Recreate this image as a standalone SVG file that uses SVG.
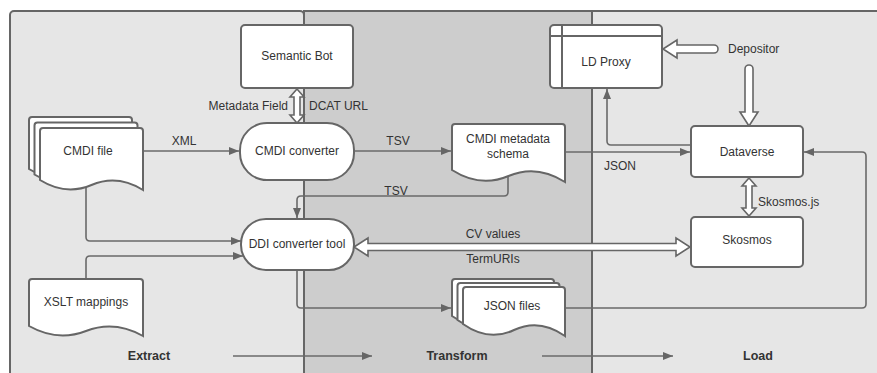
<svg xmlns="http://www.w3.org/2000/svg" width="877" height="373" viewBox="0 0 877 373">
<style>
.panel{stroke:#666;stroke-width:2}
.shape{fill:#fff;stroke:#666;stroke-width:2}
.hollow{fill:#fff;stroke:#666;stroke-width:1.6;stroke-linejoin:miter}
.conn{fill:none;stroke:#6a6a6a;stroke-width:1.6}
text{font-family:"Liberation Sans",Arial,sans-serif;font-size:12px;fill:#333}
.c{text-anchor:middle}
.e{text-anchor:end}
.b{font-weight:bold;font-size:12.5px}
</style>
<defs>
<marker id="ah" viewBox="0 0 10 8" refX="10" refY="4" markerWidth="11" markerHeight="8" markerUnits="userSpaceOnUse" orient="auto">
<path d="M0,0 L10,4 L0,8 Z" fill="#666"/>
</marker>
<path id="docCMDI" d="M0,52 V3 Q0,0 3,0 H100 Q103,0 103,3 V62 Q77.25,46 51.5,57 Q25.75,68 0,52 Z"/>
<path id="docJSON" d="M0,37 V3 Q0,0 3,0 H99 Q102,0 102,3 V49 Q76.5,31 51,43 Q25.5,55 0,37 Z"/>
</defs>

<g id="panels">
<rect class="panel" x="10" y="11" width="294" height="380" rx="4" fill="#e6e6e6"/>
<rect class="panel" x="304" y="11" width="288" height="380" fill="#cdcdcd"/>
<rect class="panel" x="592" y="11" width="300" height="380" fill="#e6e6e6"/>
</g>

<g id="connectors">
<path class="conn" d="M143,151 H239" marker-end="url(#ah)"/>
<path class="conn" d="M354,151 H451" marker-end="url(#ah)"/>
<path class="conn" d="M565,152 H690" marker-end="url(#ah)"/>
<path class="conn" d="M691,145 H611 Q607,145 607,141 V89" marker-end="url(#ah)"/>
<path class="conn" d="M508,176 V192 Q508,196 504,196 H301 Q297,196 297,200 V218" marker-end="url(#ah)"/>
<path class="conn" d="M86,186 V237 Q86,241 90,241 H241" marker-end="url(#ah)"/>
<path class="conn" d="M86,279 V260 Q86,256 90,256 H243" marker-end="url(#ah)"/>
<path class="conn" d="M297,270 V304 Q297,308 301,308 H451" marker-end="url(#ah)"/>
<path class="conn" d="M565,308 H862 Q866,308 866,304 V156 Q866,152 862,152 H804" marker-end="url(#ah)"/>
<path class="hollow" d="M297,89 L304,97 L300,97 L300,115 L304,115 L297,123 L290,115 L294,115 L294,97 L290,97 Z"/>
<path class="hollow" d="M749,178 L756,186 L752,186 L752,208 L756,208 L749,216 L742,208 L746,208 L746,186 L742,186 Z"/>
<path class="hollow" d="M663,49 L677,40 L677,45 L714,45 A4,4 0 0 1 714,53 L677,53 L677,58 Z"/>
<path class="hollow" d="M749,126 L740,112 L745,112 L745,69 A4,4 0 0 1 753,69 L753,112 L758,112 Z"/>
<path class="hollow" d="M354,247 L368,238 L368,243.5 L676,243.5 L676,238 L690,247 L676,256 L676,250.5 L368,250.5 L368,256 Z"/>
<path class="conn" d="M233,356 H372" marker-end="url(#ah)"/>
<path class="conn" d="M542,356 H673" marker-end="url(#ah)"/>
</g>

<g id="labels">
<text x="184" y="145" class="c">XML</text>
<text x="398" y="145" class="c">TSV</text>
<text x="396" y="195" class="c">TSV</text>
<text x="620" y="170" class="c">JSON</text>
<text x="493" y="238" class="c">CV values</text>
<text x="493" y="263" class="c">TermURIs</text>
<text x="758" y="206">Skosmos.js</text>
<text x="728" y="53">Depositor</text>
<text x="288" y="110" class="e">Metadata Field</text>
<text x="309" y="110">DCAT URL</text>
<text x="149" y="360" class="c b">Extract</text>
<text x="457" y="360" class="c b">Transform</text>
<text x="758" y="360" class="c b">Load</text>
</g>

<g id="semantic-bot">
<rect class="shape" x="241" y="25" width="112" height="63" rx="4"/>
<text x="297" y="60" class="c">Semantic Bot</text>
</g>

<g id="cmdi-converter">
<rect class="shape" x="240" y="123" width="114" height="57" rx="27"/>
<text x="297" y="155" class="c">CMDI converter</text>
</g>

<g id="cmdi-file">
<use href="#docCMDI" class="shape" transform="translate(29,117)"/>
<use href="#docCMDI" class="shape" transform="translate(34.5,122.5)"/>
<use href="#docCMDI" class="shape" transform="translate(40,128)"/>
<text x="88" y="155" class="c">CMDI file</text>
</g>

<g id="cmdi-metadata-schema">
<path class="shape" d="M452,170 V127 Q452,124 455,124 H562 Q565,124 565,127 V182 Q536.75,164 508.5,176 Q480.25,188 452,170 Z"/>
<text x="508" y="143" class="c">CMDI metadata</text>
<text x="508" y="158" class="c">schema</text>
</g>

<g id="ddi-converter-tool">
<rect class="shape" x="241" y="219" width="113" height="51" rx="25"/>
<text x="297" y="248" class="c">DDI converter tool</text>
</g>

<g id="xslt-mappings">
<path class="shape" d="M29,326 V282 Q29,279 32,279 H140 Q143,279 143,282 V336 Q114.5,320 86,331 Q57.5,342 29,326 Z"/>
<text x="86" y="306" class="c">XSLT mappings</text>
</g>

<g id="json-files">
<use href="#docJSON" class="shape" transform="translate(452,279)"/>
<use href="#docJSON" class="shape" transform="translate(457.5,283)"/>
<use href="#docJSON" class="shape" transform="translate(463,287)"/>
<text x="512" y="310" class="c">JSON files</text>
</g>

<g id="ld-proxy">
<rect class="shape" x="550" y="25" width="112" height="63" rx="4"/>
<path class="conn" d="M550,36 H662 M562,25 V88" style="stroke:#666;stroke-width:2"/>
<text x="606" y="66" class="c">LD Proxy</text>
</g>

<g id="dataverse">
<rect class="shape" x="691" y="126" width="112" height="51" rx="4"/>
<text x="747" y="156" class="c">Dataverse</text>
</g>

<g id="skosmos">
<rect class="shape" x="691" y="217" width="112" height="50" rx="4"/>
<text x="747" y="244" class="c">Skosmos</text>
</g>
</svg>
